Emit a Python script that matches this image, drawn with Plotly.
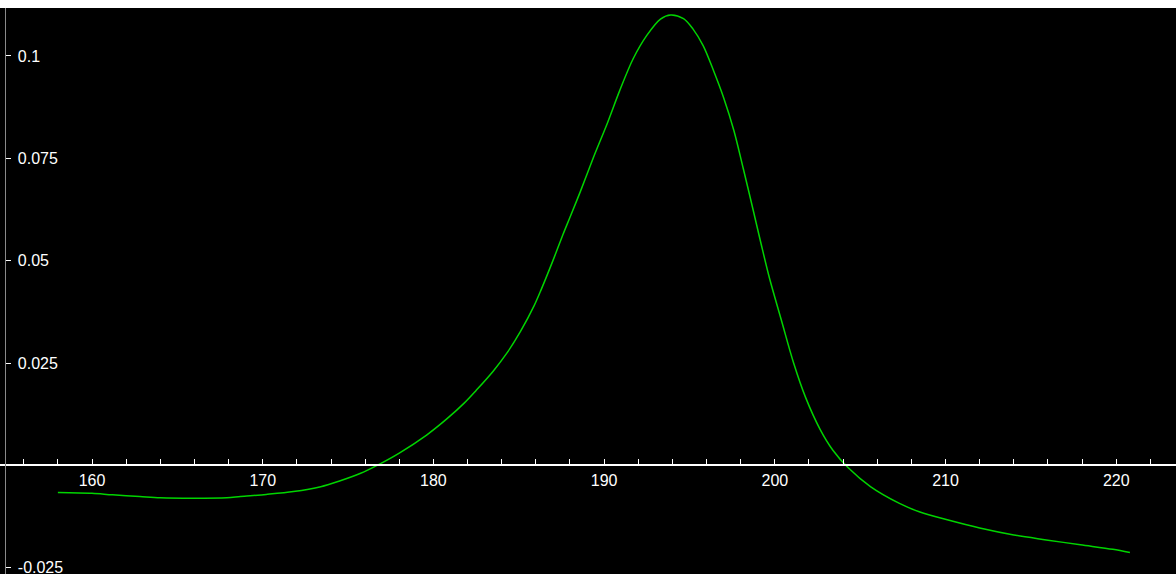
import plotly.graph_objects as go

# Curve samples (x, response)
x_vals = [158.0, 160.0, 161.2, 162.8, 164.0, 165.9, 167.9, 168.7, 170.2, 171.8,
          173.4, 174.5, 175.7, 176.7, 178.0, 179.6, 180.8, 181.8, 182.5, 183.5,
          184.3, 185.1, 185.9, 186.3, 187.0, 187.6, 188.0, 188.6, 189.4, 190.2,
          190.9, 191.7, 192.5, 193.3, 193.9, 194.65, 195.2, 195.8, 196.4, 197.0,
          197.6, 198.15, 198.75, 199.2, 199.7, 200.4, 201.1, 201.8, 202.65, 203.4,
          204.3, 205.6, 207.3, 208.5, 210.1, 212.0, 214.0, 215.9, 217.9, 219.8, 220.8]
y_vals = [-0.0066, -0.0068, -0.0072, -0.0076, -0.0079, -0.0080, -0.0079, -0.0076, -0.0071, -0.0064,
          -0.0052, -0.0038, -0.0020, 0.0000, 0.0030, 0.0074, 0.0114, 0.0152, 0.0183, 0.0230,
          0.0274, 0.0327, 0.0390, 0.0428, 0.0500, 0.0565, 0.0606, 0.0668, 0.0755, 0.0837,
          0.0914, 0.0993, 0.1050, 0.1090, 0.1100, 0.1091, 0.1066, 0.1025, 0.0965, 0.0898,
          0.0818, 0.0725, 0.0620, 0.0540, 0.0455, 0.0352, 0.0250, 0.0166, 0.0088, 0.0037,
          -0.0006, -0.0052, -0.0093, -0.0114, -0.0133, -0.0153, -0.0170, -0.0182, -0.0194, -0.0205, -0.0213]

y_tick_vals = [0.1, 0.075, 0.05, 0.025, -0.025]
y_tick_text = ["0.1", "0.075", "0.05", "0.025", "-0.025"]

x_range = [154.61, 223.5]
y_range = [-0.02653, 0.1117]

font = dict(family="Liberation Sans, Arial, sans-serif", size=16, color="white")

fig = go.Figure()
fig.add_trace(go.Scatter(
    x=x_vals, y=y_vals, mode="lines",
    line=dict(color="#00d400", width=1.5, shape="spline", smoothing=0.9),
    hoverinfo="skip", showlegend=False,
))

# x axis sits on y = 0
x_pos = (0 - y_range[0]) / (y_range[1] - y_range[0])

fig.update_layout(
    width=1176, height=576,
    margin=dict(l=0, r=0, t=8, b=0),
    paper_bgcolor="white",
    plot_bgcolor="black",
    font=font,
    xaxis=dict(
        range=x_range, domain=[0, 1], anchor="free", position=x_pos,
        showgrid=False, zeroline=False,
        showline=True, linecolor="white", linewidth=2,
        tickmode="linear", tick0=160, dtick=10,
        ticks="inside", ticklen=5, tickcolor="white", tickwidth=1,
        minor=dict(tickmode="linear", tick0=156, dtick=2, ticks="inside",
                   ticklen=5, tickcolor="white", tickwidth=1, showgrid=False),
        tickfont=font,
    ),
    yaxis=dict(
        range=y_range, domain=[0, 1], anchor="free", position=5 / 1176,
        showgrid=False, zeroline=False,
        showline=True, linecolor="#8a8a8a", linewidth=1,
        tickmode="array", tickvals=y_tick_vals, ticktext=y_tick_text,
        ticks="inside", ticklen=5, tickcolor="white", tickwidth=1,
        ticklabelposition="inside", ticklabeloverflow="allow",
        ticklabelstandoff=7, tickfont=font,
    ),
)

fig.write_html("out.html", config={"displayModeBar": False})
